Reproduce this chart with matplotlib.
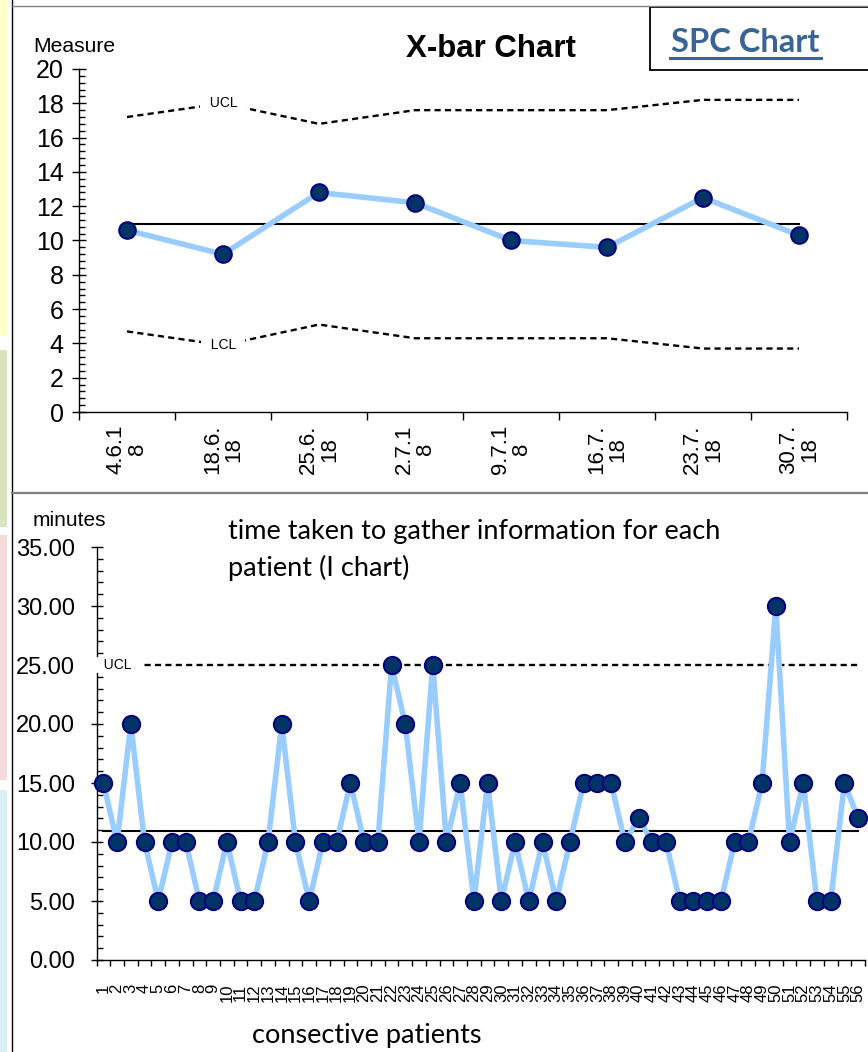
import matplotlib.pyplot as plt
from matplotlib.lines import Line2D
from matplotlib.patches import Rectangle
import numpy as np

W, H = 868, 1052

# X-bar chart data
xbar_dates = ['4.6.1\n8', '18.6.\n18', '25.6.\n18', '2.7.1\n8', '9.7.1\n8', '16.7.\n18', '23.7.\n18', '30.7.\n18']
xbar_means = [10.6, 9.2, 12.8, 12.2, 10.0, 9.6, 12.5, 10.3]
xbar_cl = [10.95] * 8
xbar_ucl = [17.2, 18.0, 16.8, 17.6, 17.6, 17.6, 18.2, 18.2]
xbar_lcl = [4.7, 3.9, 5.1, 4.3, 4.3, 4.3, 3.7, 3.7]

# I chart data
patients = [str(i) for i in range(1, 57)]
minutes = [15, 10, 20, 10, 5, 10, 10, 5, 5, 10,
           5, 5, 10, 20, 10, 5, 10, 10, 15, 10,
           10, 25, 20, 10, 25, 10, 15, 5, 15, 5,
           10, 5, 10, 5, 10, 15, 15, 15, 10, 12,
           10, 10, 5, 5, 5, 5, 10, 10, 15, 30,
           10, 15, 5, 5, 15, 12]
i_cl = [10.96] * 56
i_ucl = [25.0] * 56

line_col = '#99ccff'
pt_fill = '#003366'
pt_edge = '#000080'
sans = ['Liberation Sans', 'DejaVu Sans']
cal = ['Lato', 'DejaVu Sans']


def fx(px):
    return px / W


def fy(py):
    return 1 - py / H


fig = plt.figure(figsize=(W / 100, H / 100), dpi=100)

# slide decorations
strips = [(0, 336, '#ffffcc'), (350, 527, '#d7e4bd'), (535, 780, '#f2dcdb'), (790, 1052, '#dbeef4')]
for y0, y1, c in strips:
    fig.patches.append(Rectangle((0, fy(y1)), fx(6.5), (y1 - y0) / H, transform=fig.transFigure,
                                 facecolor=c, edgecolor='none'))
fig.lines.append(Line2D([fx(11.5), fx(11.5)], [0, 1], transform=fig.transFigure, color='black', lw=1))
fig.lines.append(Line2D([fx(11.5), 1], [fy(5.5), fy(5.5)], transform=fig.transFigure, color='#808080', lw=1))
fig.lines.append(Line2D([fx(11.5), 1], [fy(492.5), fy(492.5)], transform=fig.transFigure, color='#808080', lw=1.6))
fig.patches.append(Rectangle((fx(650), fy(70)), fx(230), 63 / H, transform=fig.transFigure,
                             facecolor='white', edgecolor='black', lw=1.3))
fig.text(fx(745), fy(42), 'SPC Chart', family=cal, fontsize=23.5, fontweight='bold',
         color='#3a6496', ha='center', va='center')
fig.lines.append(Line2D([fx(670), fx(821)], [fy(58), fy(58)], transform=fig.transFigure,
                        color='#3a6496', lw=2.2))


def style_axes(ax):
    for s in ['top', 'right']:
        ax.spines[s].set_visible(False)
    for s in ['left', 'bottom']:
        ax.spines[s].set_linewidth(1)


# ---------- X-bar chart ----------
ax1 = fig.add_axes([fx(79), fy(412), (847 - 79) / W, (412 - 69) / H])
style_axes(ax1)
x1 = np.arange(len(xbar_means))
ax1.plot(x1, xbar_ucl, color='black', lw=1.7, ls=(0, (2.6, 1.8)), zorder=2)
ax1.plot(x1, xbar_lcl, color='black', lw=1.7, ls=(0, (2.6, 1.8)), zorder=2)
ax1.plot(x1, xbar_cl, color='black', lw=1.5, zorder=2)
ax1.plot(x1, xbar_means, color=line_col, lw=4, marker='o', ms=12,
         mfc=pt_fill, mec=pt_edge, mew=1.4, zorder=3)
ax1.text(1, xbar_ucl[1], '  UCL  ', family=sans, fontsize=10, ha='center', va='center',
         bbox=dict(boxstyle='square,pad=0.1', fc='white', ec='none'), zorder=4)
ax1.text(1, xbar_lcl[1], '  LCL  ', family=sans, fontsize=10, ha='center', va='center',
         bbox=dict(boxstyle='square,pad=0.1', fc='white', ec='none'), zorder=4)
ax1.set_xlim(-0.5, len(xbar_means) - 0.5)
ax1.set_ylim(0, 20)
ax1.set_yticks(np.arange(0, 21, 2))
ax1.set_yticks(np.arange(0, 20.01, 0.4), minor=True)
ax1.tick_params(axis='y', which='major', direction='inout', length=10, width=1, pad=6,
                labelsize=18)
ax1.tick_params(axis='y', which='minor', direction='in', length=4.5, width=1)
ax1.set_xticks(np.arange(-0.5, len(xbar_means)))
ax1.set_xticklabels([])
ax1.set_xticks(x1, minor=True)
ax1.set_xticklabels(xbar_dates, minor=True, rotation=90, fontsize=16, family=sans,
                    linespacing=1.0)
ax1.tick_params(axis='x', which='major', direction='out', length=6, width=1)
ax1.tick_params(axis='x', which='minor', length=0, pad=9)
for lab in ax1.get_yticklabels():
    lab.set_family(sans)
fig.text(fx(33), fy(46), 'Measure', family=sans, fontsize=15.2, ha='left', va='center')
fig.text(fx(491), fy(49), 'X-bar Chart', family=sans, fontsize=22.5, fontweight='bold',
         ha='center', va='center')

# ---------- I chart ----------
ax2 = fig.add_axes([fx(96.5), fy(960), (865 - 96.5) / W, (960 - 547) / H])
style_axes(ax2)
x2 = np.arange(len(minutes))
ax2.plot(x2, i_ucl, color='black', lw=1.7, ls=(0, (2.6, 1.8)), zorder=2)
ax2.plot(x2, i_cl, color='black', lw=1.5, zorder=2)
ax2.plot(x2, minutes, color=line_col, lw=4, marker='o', ms=12.5,
         mfc=pt_fill, mec=pt_edge, mew=1.4, zorder=3, clip_on=False)
ax2.text(1.0, i_ucl[0], '   UCL   ', family=sans, fontsize=10, ha='center', va='center',
         bbox=dict(boxstyle='square,pad=0.05', fc='white', ec='none'), zorder=5, clip_on=False)
ax2.set_xlim(-0.5, len(minutes) - 0.5)
ax2.set_ylim(0, 35)
ax2.set_yticks(np.arange(0, 36, 5))
ax2.set_yticks(np.arange(0, 35.01, 1), minor=True)
ax2.set_yticklabels(['%.2f' % v for v in np.arange(0, 36, 5)], family=sans)
ax2.tick_params(axis='y', which='major', direction='inout', length=9, width=1, pad=11,
                labelsize=17)
ax2.tick_params(axis='y', which='minor', direction='in', length=4, width=1)
ax2.set_xticks(np.arange(-0.5, len(minutes)))
ax2.set_xticklabels([])
ax2.set_xticks(x2, minor=True)
ax2.set_xticklabels(patients, minor=True, rotation=90, fontsize=12, family=sans)
ax2.tick_params(axis='x', which='major', direction='out', length=4, width=1)
ax2.tick_params(axis='x', which='minor', length=0, pad=17)
fig.text(fx(33), fy(521), 'minutes', family=sans, fontsize=15, ha='left', va='center')
fig.text(fx(228), fy(519), 'time taken to gather information for each\npatient (I chart)',
         family=cal, fontsize=19.5, ha='left', va='top', linespacing=1.5)
fig.text(fx(367), fy(1035), 'consective patients', family=cal, fontsize=19.5,
         ha='center', va='center')

fig.savefig('out.png', dpi=100)
